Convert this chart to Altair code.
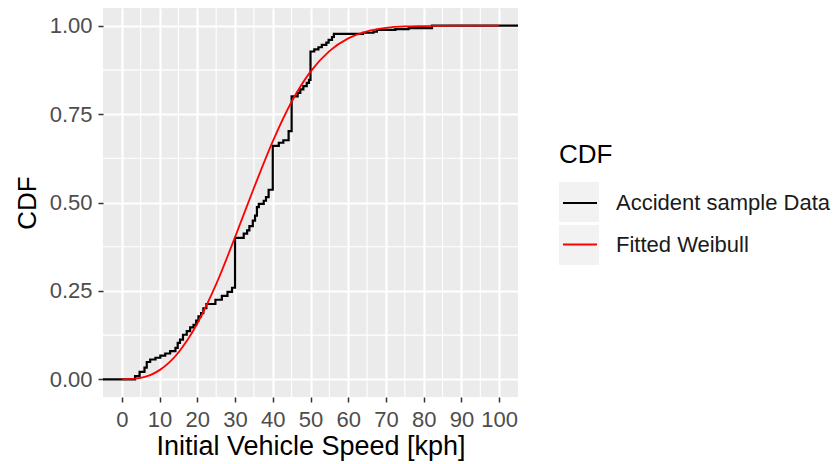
import altair as alt
import pandas as pd

# ---- data ----
ecdf_speed = [-5, 3.5, 4.7, 6.0, 6.6, 7.5, 8.9, 10.2, 11.5, 12.8, 14.2, 14.8, 15.4, 16.2,
              17.2, 18.1, 19.0, 19.7, 20.3, 21.0, 21.6, 22.4, 24.8, 26.5, 28.0, 29.2, 30.0,
              32.3, 33.2, 33.8, 34.7, 35.3, 35.8, 36.3, 37.6, 38.2, 38.9, 40.0, 41.6, 42.8,
              44.2, 45.0, 46.6, 47.3, 48.1, 49.0, 49.6, 50.0, 51.0, 52.1, 53.0, 54.2, 54.8,
              55.7, 56.2, 63.9, 66.7, 67.6, 72.5, 76.0, 82.2, 105]
ecdf_cdf = [0, 0.009, 0.021, 0.033, 0.049, 0.056, 0.061, 0.067, 0.073, 0.080, 0.089, 0.103,
            0.112, 0.126, 0.136, 0.147, 0.154, 0.166, 0.178, 0.187, 0.201, 0.213, 0.225,
            0.236, 0.247, 0.259, 0.400, 0.412, 0.421, 0.433, 0.449, 0.463, 0.487, 0.496,
            0.505, 0.515, 0.536, 0.660, 0.669, 0.676, 0.702, 0.800, 0.810, 0.820, 0.829,
            0.838, 0.847, 0.927, 0.933, 0.939, 0.946, 0.952, 0.960, 0.968, 0.977, 0.980,
            0.983, 0.988, 0.990, 0.993, 1.0, 1.0]

fit_speed = [0, 2.5, 5, 7.5, 10, 12.5, 15, 17.5, 20, 25, 30, 35, 40, 45, 50, 55, 60, 65,
             70, 75, 80, 90, 100]
fit_cdf = [0, 0.001, 0.004, 0.012, 0.026, 0.047, 0.076, 0.113, 0.158, 0.269, 0.402, 0.541,
           0.673, 0.785, 0.870, 0.928, 0.964, 0.984, 0.994, 0.998, 0.999, 1.0, 1.0]

series_names = ["Accident sample Data", "Fitted Weibull"]
series_colors = ["#000000", "#FF0000"]
key_names = ["k1", "k2"]

x_ticks = [0, 10, 20, 30, 40, 50, 60, 70, 80, 90, 100]
x_minor = [5, 15, 25, 35, 45, 55, 65, 75, 85, 95]
y_ticks = [0, 0.25, 0.5, 0.75, 1.0]
y_minor = [0.125, 0.375, 0.625, 0.875]
x_domain = [-5, 105]
y_domain = [-0.05, 1.05]

FONT = "Liberation Sans"

ecdf_df = pd.DataFrame({"speed": ecdf_speed, "cdf": ecdf_cdf, "series": series_names[0]})
fit_df = pd.DataFrame({"speed": fit_speed, "cdf": fit_cdf, "series": series_names[1]})
xminor_df = pd.DataFrame({"speed": x_minor})
yminor_df = pd.DataFrame({"cdf": y_minor})
key_df = pd.DataFrame({"key": key_names})

x_scale = alt.Scale(domain=x_domain, nice=False, zero=False)
y_scale = alt.Scale(domain=y_domain, nice=False, zero=False)
color_scale = alt.Scale(domain=series_names, range=series_colors)

x_axis = alt.Axis(values=x_ticks, title="Initial Vehicle Speed [kph]", grid=True,
                  gridColor="white", gridWidth=2.2, domain=False, tickColor="#333333",
                  tickSize=5, tickWidth=1.5, labelColor="#4D4D4D", labelFontSize=22,
                  labelPadding=7, labelFlush=False, labelOverlap=False, labelFont=FONT,
                  titleFont=FONT, titleFontSize=27, titleColor="#000000",
                  titleFontWeight="normal", titlePadding=3)
y_axis = alt.Axis(values=y_ticks, format=".2f", title="CDF", grid=True,
                  gridColor="white", gridWidth=2.2, domain=False, tickColor="#333333",
                  tickSize=5, tickWidth=1.5, labelColor="#4D4D4D", labelFontSize=22,
                  labelPadding=6, labelFlush=False, labelOverlap=False, labelFont=FONT,
                  titleFont=FONT, titleFontSize=26, titleColor="#000000",
                  titleFontWeight="normal", titlePadding=9)

legend_common = dict(orient="none", legendX=456, legendY=134,
                     titleFont=FONT, titleFontSize=26, titleFontWeight="normal",
                     titleColor="#000000", titlePadding=14, labelFont=FONT,
                     labelFontSize=22, labelColor="#1A1A1A", labelOffset=15,
                     labelLimit=0, symbolSize=1600, padding=0)

# gray key boxes (legend only)
keys = alt.Chart(key_df).mark_point(filled=True, opacity=0, size=0).encode(
    fill=alt.Fill("key:N",
                  scale=alt.Scale(domain=key_names, range=["#F2F2F2", "#F2F2F2"]),
                  legend=alt.Legend(title=" ", labelExpr="''", symbolType="square",
                                    symbolOpacity=1, symbolStrokeWidth=0, rowPadding=3,
                                    symbolStrokeColor="transparent", **legend_common))
)

minor_x = alt.Chart(xminor_df).mark_rule(color="white", strokeWidth=1.1).encode(
    x=alt.X("speed:Q", scale=x_scale, axis=x_axis)
)
minor_y = alt.Chart(yminor_df).mark_rule(color="white", strokeWidth=1.1).encode(
    y=alt.Y("cdf:Q", scale=y_scale, axis=y_axis)
)

color_enc = alt.Color("series:N", scale=color_scale,
                      legend=alt.Legend(title="CDF", symbolType="M-0.85,0H0.85",
                                        symbolStrokeWidth=2, rowPadding=9.5,
                                        **legend_common))

ecdf_line = alt.Chart(ecdf_df).mark_line(interpolate="step-after", strokeWidth=2.2,
                                         clip=True).encode(
    x=alt.X("speed:Q", scale=x_scale, axis=x_axis),
    y=alt.Y("cdf:Q", scale=y_scale, axis=y_axis),
    color=color_enc,
)
fit_line = alt.Chart(fit_df).mark_line(interpolate="monotone", strokeWidth=1.8,
                                       clip=True).encode(
    x=alt.X("speed:Q", scale=x_scale, axis=x_axis),
    y=alt.Y("cdf:Q", scale=y_scale, axis=y_axis),
    color=color_enc,
)

chart = alt.layer(keys, minor_x, minor_y, ecdf_line, fit_line).properties(
    width=415, height=389,
    autosize=alt.AutoSizeParams(type="none"),
    padding={"left": 95, "top": 0, "right": 314, "bottom": 67},
    background="white",
).configure_view(fill="#EBEBEB", strokeWidth=0)

chart.save("out.html", embed_options={"renderer": "svg", "actions": False})
